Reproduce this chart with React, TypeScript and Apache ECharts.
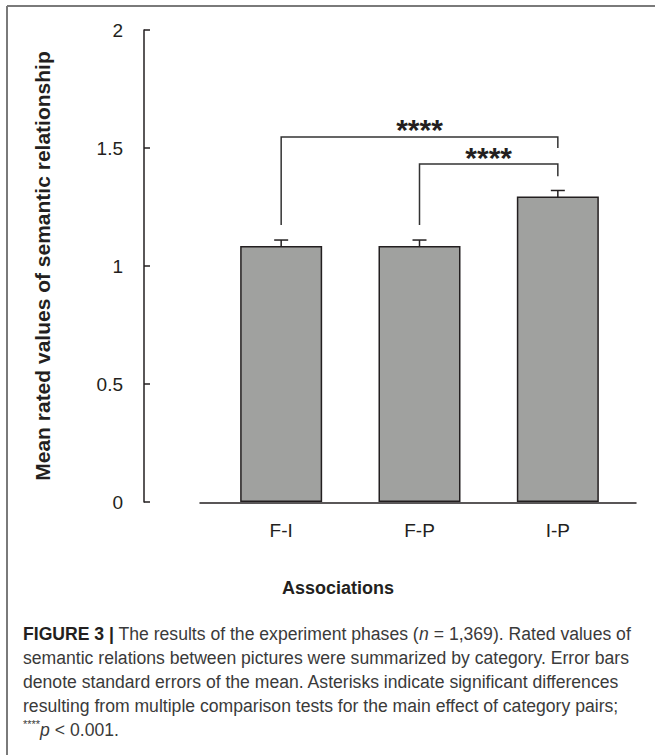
import React, { useEffect, useRef } from "react";
import * as echarts from "echarts";

const categories = ["F-I", "F-P", "I-P"];
const means = [1.085, 1.085, 1.295];
const sems = [0.025, 0.025, 0.025];
const yMin = 0;
const yMax = 2;
const yStep = 0.5;
// brackets: from index, to index, top value, left-leg bottom, right-leg bottom
const bracketFrom = [0, 1];
const bracketTo = [2, 2];
const bracketTop = [1.547, 1.432];
const bracketLeftBottom = [1.174, 1.174];
const bracketRightBottom = [1.5, 1.38];
const bracketLabels = ["****", "****"];

const yAxisTitle = "Mean rated values of semantic relationship";
const xAxisTitle = "Associations";

const FONT = "'Liberation Sans', Arial, Helvetica, sans-serif";
const INK = "#231f20";

export default function App() {
  const ref = useRef<HTMLDivElement>(null);
  useEffect(() => {
    if (!ref.current) return;
    const chart = echarts.init(ref.current, undefined, { renderer: "svg" });

    const errData = categories.map((_, i) => [i, means[i] - sems[i], means[i] + sems[i]]);
    const brData = bracketFrom.map((f, i) => [f, bracketTo[i], bracketTop[i], bracketLeftBottom[i], bracketRightBottom[i]]);

    const option: any = {
      animation: false,
      backgroundColor: "#ffffff",
      textStyle: { fontFamily: FONT },
      title: {
        text: xAxisTitle,
        left: 333,
        top: 574,
        textAlign: "center",
        textStyle: { fontFamily: FONT, fontSize: 18, fontWeight: "bold", color: INK },
      },
      grid: [
        { left: 212, right: 28, top: 30, bottom: 253, containLabel: false },
        { left: 200, right: 19, top: 30, bottom: 252, containLabel: false },
      ],
      xAxis: [
        {
          type: "category",
          gridIndex: 0,
          data: categories,
          axisLine: { show: false },
          axisTick: { show: false },
          axisLabel: { margin: 19, fontSize: 19, color: INK, fontFamily: FONT },
        },
        {
          type: "value",
          gridIndex: 1,
          min: 0,
          max: 1,
          axisLine: { show: true, lineStyle: { color: INK, width: 1.5 } },
          axisTick: { show: false },
          axisLabel: { show: false },
          splitLine: { show: false },
        },
      ],
      yAxis: [
        {
          type: "value",
          gridIndex: 0,
          min: yMin,
          max: yMax,
          interval: yStep,
          offset: 68,
          axisLine: { show: true, lineStyle: { color: INK, width: 1.5 } },
          axisTick: { show: true, inside: true, length: 6, lineStyle: { color: INK, width: 1.5 } },
          axisLabel: { margin: 21, fontSize: 19, color: INK, fontFamily: FONT },
          splitLine: { show: false },
          name: yAxisTitle,
          nameLocation: "middle",
          nameGap: 91,
          nameRotate: 90,
          nameTextStyle: { fontSize: 21, fontWeight: "bold", color: INK, fontFamily: FONT },
        },
        { type: "value", gridIndex: 1, show: false, min: 0, max: 1 },
      ],
      series: [
        {
          type: "bar",
          xAxisIndex: 0,
          yAxisIndex: 0,
          data: means,
          barWidth: 82,
          itemStyle: { color: "#a0a19f", borderColor: INK, borderWidth: 1.5 },
        },
        {
          type: "custom",
          xAxisIndex: 0,
          yAxisIndex: 0,
          data: errData,
          encode: { x: 0, y: [1, 2] },
          renderItem: (params: any, api: any) => {
            const x = api.value(0);
            const lo = api.coord([x, api.value(1)]);
            const hi = api.coord([x, api.value(2)]);
            const h = 7;
            const st = { stroke: INK, lineWidth: 1.5 };
            return {
              type: "group",
              children: [
                { type: "line", shape: { x1: lo[0], y1: lo[1], x2: hi[0], y2: hi[1] }, style: st },
                { type: "line", shape: { x1: lo[0] - h, y1: lo[1], x2: lo[0] + h, y2: lo[1] }, style: st },
                { type: "line", shape: { x1: hi[0] - h, y1: hi[1], x2: hi[0] + h, y2: hi[1] }, style: st },
              ],
            };
          },
        },
        {
          type: "custom",
          xAxisIndex: 0,
          yAxisIndex: 0,
          data: brData,
          encode: { x: [0, 1], y: [2, 3, 4] },
          renderItem: (params: any, api: any) => {
            const f = api.value(0);
            const t = api.value(1);
            const p0 = api.coord([f, api.value(3)]);
            const p1 = api.coord([f, api.value(2)]);
            const p2 = api.coord([t, api.value(2)]);
            const p3 = api.coord([t, api.value(4)]);
            return {
              type: "group",
              children: [
                {
                  type: "polyline",
                  shape: { points: [p0, p1, p2, p3] },
                  style: { stroke: "#333333", lineWidth: 1.5, fill: null },
                },
                {
                  type: "text",
                  x: (p1[0] + p2[0]) / 2,
                  y: p1[1] + 8,
                  style: {
                    text: bracketLabels[params.dataIndex],
                    fontFamily: FONT,
                    fontSize: 30,
                    fontWeight: "bold",
                    fill: INK,
                    align: "center",
                    verticalAlign: "bottom",
                  },
                },
              ],
            };
          },
        },
      ],
      graphic: [
        { type: "line", shape: { x1: 7, y1: 6, x2: 655, y2: 6 }, style: { stroke: "#7a7a7a", lineWidth: 2 } },
        { type: "line", shape: { x1: 7, y1: 6, x2: 7, y2: 755 }, style: { stroke: "#7a7a7a", lineWidth: 2 } },
        {
          type: "text",
          left: 23,
          top: 622,
          style: {
            text:
              "{b|FIGURE 3 |} The results of the experiment phases ({i|n} = 1,369). Rated values of\n" +
              "semantic relations between pictures were summarized by category. Error bars\n" +
              "denote standard errors of the mean. Asterisks indicate significant differences\n" +
              "resulting from multiple comparison tests for the main effect of category pairs;\n" +
              "{s|****}{i|p} < 0.001.",
            fontFamily: FONT,
            fontSize: 17.6,
            lineHeight: 24,
            fill: "#3a3a3a",
            rich: {
              b: { fontFamily: FONT, fontSize: 17.6, fontWeight: "bold", fill: "#231f20", lineHeight: 24 },
              i: { fontFamily: FONT, fontSize: 17.6, fontStyle: "italic", fill: "#3a3a3a", lineHeight: 24 },
              s: { fontFamily: FONT, fontSize: 11, fill: "#3a3a3a", verticalAlign: "top", lineHeight: 24 },
            },
          },
        },
      ],
    };
    chart.setOption(option);
    return () => chart.dispose();
  }, []);
  return (
    <div
      ref={ref}
      style={{ position: "absolute", left: 0, top: 0, width: 655, height: 755, background: "#fff" }}
    />
  );
}
